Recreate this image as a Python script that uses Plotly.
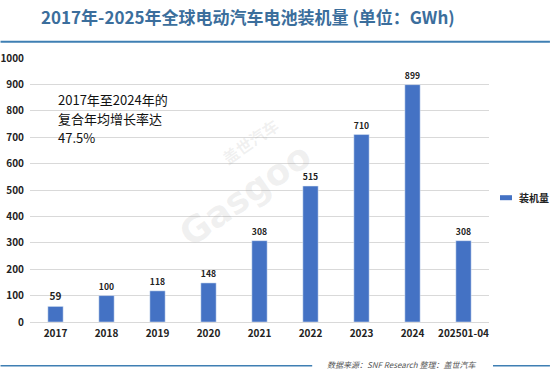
import plotly.graph_objects as go

categories = ["2017", "2018", "2019", "2020", "2021", "2022", "2023", "2024", "202501-04"]
values = [59, 100, 118, 148, 308, 515, 710, 899, 308]
series_name = "装机量"
y_ticks = [0, 100, 200, 300, 400, 500, 600, 700, 800, 900, 1000]

title_text = "2017年-2025年全球电动汽车电池装机量 (单位：GWh)"
note_lines = ["2017年至2024年的", "复合年均增长率达", "47.5%"]
source_text = "数据来源：SNF Research 整理：盖世汽车"

W, H = 550, 378
L, R, T, B = 29.5, 489, 58.3, 322.3
pw, ph = R - L, B - T

def px(x):
    return (x - L) / pw

def py(y):
    return (B - y) / ph

FONT = "Noto Sans CJK SC, Open Sans, sans-serif"
LINE_C = "#3f7fb3"
BAR_C = "#4472c4"

fig = go.Figure()
fig.add_trace(go.Bar(
    x=categories, y=values, name=series_name,
    marker=dict(color=BAR_C),
    text=[str(v) for v in values], textposition="outside",
    textfont=dict(size=10, color="#222222", family=FONT, weight="bold"),
    cliponaxis=False, showlegend=False, hoverinfo="skip",
))

fig.update_layout(
    width=W, height=H,
    margin=dict(l=L, r=W - R, t=T, b=H - B, autoexpand=False),
    paper_bgcolor="white", plot_bgcolor="white",
    bargap=0.7,
    showlegend=False,
    xaxis=dict(showgrid=False, showline=True, linecolor="#d9d9d9", linewidth=1,
               ticks="", tickfont=dict(size=10, family=FONT, color="#222222", weight="bold"),
               ticklabelstandoff=2),
    yaxis=dict(range=[0, 1000], tickvals=y_ticks, showgrid=True, gridcolor="#d9d9d9",
               gridwidth=1, zeroline=False, showline=False, ticks="",
               tickfont=dict(size=10, family=FONT, color="#222222", weight="bold"),
               ticklabelstandoff=5),
    font=dict(family=FONT),
)

# custom legend
fig.add_shape(type="rect", xref="paper", yref="paper", x0=px(500), x1=px(512), y0=py(200.5), y1=py(195.5),
              line=dict(width=0), fillcolor=BAR_C)
fig.add_annotation(xref="paper", yref="paper", x=px(517), y=py(198), text=series_name,
                   showarrow=False, xanchor="left", yanchor="middle",
                   font=dict(size=10, family=FONT, color="#222222", weight="bold"))

# title
fig.add_annotation(xref="paper", yref="paper", x=px(247.5), y=py(17), text=title_text,
                   showarrow=False, xanchor="center", yanchor="middle",
                   font=dict(size=17, family=FONT, color="#3b6e9c", weight="bold"))
fig.add_shape(type="line", xref="paper", yref="paper", x0=px(0), x1=px(W), y0=py(42), y1=py(42),
              line=dict(color=LINE_C, width=2))

# note
for i, t in enumerate(note_lines):
    fig.add_annotation(xref="paper", yref="paper", x=px(57), y=py(99.5 + 19 * i), text=t,
                       showarrow=False, xanchor="left", yanchor="middle", align="left",
                       borderpad=0,
                       font=dict(size=13, family=FONT, color="#111111"))

# watermark
fig.add_annotation(xref="paper", yref="paper", x=px(245), y=py(195), text="Gasgoo",
                   showarrow=False, textangle=-35,
                   font=dict(size=36, family="DejaVu Sans", color="rgba(160,160,160,0.16)", weight="bold"))
fig.add_annotation(xref="paper", yref="paper", x=px(250), y=py(110), text="盖世汽车",
                   showarrow=False, textangle=-35,
                   font=dict(size=16, family=FONT, color="rgba(160,160,160,0.16)", weight="bold"))

# source line
fig.add_shape(type="line", xref="paper", yref="paper", x0=px(0), x1=px(312), y0=py(366), y1=py(366),
              line=dict(color=LINE_C, width=1.5))
fig.add_shape(type="line", xref="paper", yref="paper", x0=px(493), x1=px(W), y0=py(366), y1=py(366),
              line=dict(color=LINE_C, width=1.5))
fig.add_annotation(xref="paper", yref="paper", x=px(401), y=py(365), text="<i>" + source_text + "</i>",
                   showarrow=False, xanchor="center", yanchor="middle",
                   font=dict(size=8, family=FONT, color="#555555"))

fig.write_html("out.html", config={"displayModeBar": False},
               post_script="document.body.style.margin='0';document.body.style.overflow='hidden';")
